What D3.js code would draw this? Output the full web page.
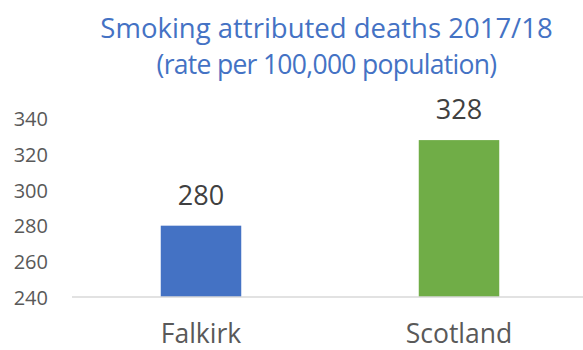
<!DOCTYPE html>
<html>
<head>
<meta charset="utf-8">
<script src="https://cdn.jsdelivr.net/npm/d3@7"></script>
<style>
  html, body { margin: 0; padding: 0; background: #fff; }
  svg { display: block; font-family: "Open Sans", "Noto Sans", sans-serif; }
</style>
</head>
<body>
<svg id="chart" width="583" height="350"></svg>
<script>
const categories = ["Falkirk", "Scotland"];
const values = [280, 328];
const barColors = ["#4472C4", "#70AD47"];
const yTicks = [240, 260, 280, 300, 320, 340];
const titleLines = ["Smoking attributed deaths 2017/18", "(rate per 100,000 population)"];

const svg = d3.select("#chart");
const W = 583, H = 350;
const plot = { left: 72, right: 588, top: 118.7, bottom: 297 };

const x = d3.scaleBand()
  .domain(categories)
  .range([plot.left, plot.right])
  .paddingInner(0.688)
  .paddingOuter(0.344);

const y = d3.scaleLinear()
  .domain([240, 340])
  .range([plot.bottom, plot.top]);

// Title
const title = svg.append("g").attr("fill", "#4472C4")
  .attr("text-anchor", "middle");
title.selectAll("text").data(titleLines).join("text")
  .attr("x", 326.5)
  .attr("y", (d, i) => 38 + i * 36)
  .attr("font-size", (d, i) => i === 0 ? 27.5 : 26.5)
  .attr("letter-spacing", (d, i) => i === 0 ? 0 : -0.7)
  .text(d => d);

// Y axis (labels only)
const yAxis = d3.axisLeft(y).tickValues(yTicks).tickSize(0).tickPadding(0);
const gy = svg.append("g").attr("transform", "translate(48,0)").call(yAxis);
gy.select(".domain").remove();
gy.selectAll("text")
  .attr("font-family", "'Open Sans', sans-serif")
  .attr("font-size", 20)
  .attr("fill", "#595959")
  .attr("dy", "0.35em");

// Bars
svg.append("g").selectAll("rect").data(categories).join("rect")
  .attr("x", d => x(d))
  .attr("y", (d, i) => y(values[i]))
  .attr("width", x.bandwidth())
  .attr("height", (d, i) => y(240) - y(values[i]))
  .attr("fill", (d, i) => barColors[i]);

// X axis
const xAxis = d3.axisBottom(x).tickSize(0).tickPadding(0);
const gx = svg.append("g").attr("transform", `translate(0,${plot.bottom})`).call(xAxis);
gx.select(".domain").attr("stroke", "#D9D9D9").attr("stroke-width", 1.5)
  .attr("d", `M${plot.left},0H${W}`);
gx.selectAll("text")
  .attr("font-family", "'Open Sans', sans-serif")
  .attr("font-size", 26.5)
  .attr("fill", "#595959")
  .attr("dy", 0)
  .attr("y", 46);

// Value labels
svg.append("g").selectAll("text").data(categories).join("text")
  .attr("x", d => x(d) + x.bandwidth() / 2)
  .attr("y", (d, i) => y(values[i]) - 21)
  .attr("text-anchor", "middle")
  .attr("font-size", 27)
  .attr("fill", "#404040")
  .text((d, i) => values[i]);
</script>
</body>
</html>
